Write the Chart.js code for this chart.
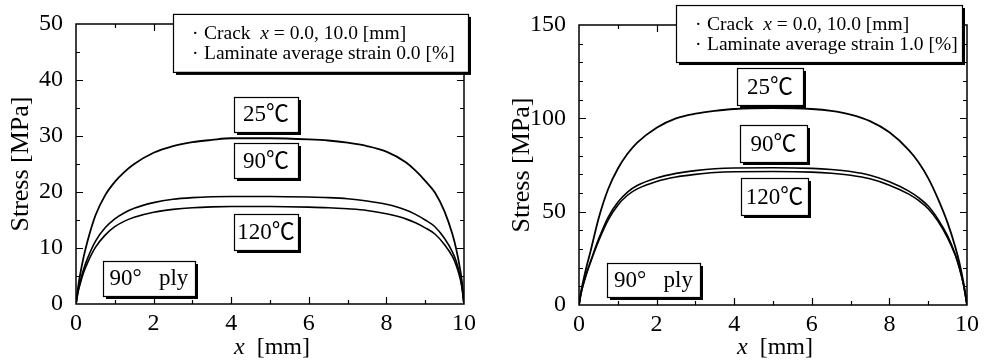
<!DOCTYPE html>
<html>
<head>
<meta charset="utf-8">
<script src="https://cdn.jsdelivr.net/npm/chart.js@4.4.0/dist/chart.umd.min.js"></script>
<style>
body { margin: 0; background: #fff; }
#wrap { position: relative; width: 984px; height: 364px; background: #fff; }
#left { position: absolute; left: 0; top: 0; }
#right { position: absolute; left: 492px; top: 0; }
</style>
</head>
<body>
<div id="wrap">
<canvas id="left" width="492" height="364"></canvas>
<canvas id="right" width="492" height="364"></canvas>
</div>
<script>
// x positions along the ply [mm]
var xPos = [0, 0.05, 0.1, 0.2, 0.3, 0.5, 0.75, 1, 1.25, 1.5, 2, 2.5, 3, 3.5, 4, 5, 6, 6.5, 7, 7.5, 8, 8.5, 8.75, 9, 9.25, 9.5, 9.7, 9.8, 9.9, 9.95, 10];

// strain 0.0 %
var left25 = [0, 2.8, 5, 8.5, 11.3, 15.8, 19.4, 21.8, 23.6, 25.0, 27.0, 28.2, 28.9, 29.3, 29.6, 29.6, 29.4, 29.2, 28.8, 28.2, 27.2, 25.3, 23.8, 22.0, 19.9, 16.5, 12.5, 9.8, 6.2, 3.8, 0];
var left90 = [0, 2.2, 3.8, 6.3, 8.2, 11.2, 13.6, 15.2, 16.3, 17.1, 18.1, 18.7, 19.0, 19.15, 19.2, 19.2, 19.1, 19.0, 18.8, 18.4, 17.8, 16.8, 16.0, 15.0, 13.8, 11.7, 9.3, 7.6, 5.0, 3.0, 0];
var left120 = [0, 2.0, 3.4, 5.7, 7.4, 10.1, 12.3, 13.8, 14.8, 15.5, 16.4, 16.9, 17.2, 17.35, 17.4, 17.4, 17.3, 17.2, 17.0, 16.7, 16.1, 15.2, 14.5, 13.6, 12.5, 10.6, 8.5, 6.9, 4.6, 2.8, 0];

// strain 1.0 %
var right25 = [0, 7, 12, 21, 29, 46, 62, 73, 81, 87, 95, 100, 102.5, 104, 105, 105.5, 105, 104, 102, 98.5, 92.5, 83, 76.5, 68, 57, 44, 31, 23, 13, 7, 0];
var right90 = [0, 6, 10.5, 17.5, 23.5, 35, 47, 55, 60.5, 64, 68, 70.5, 72, 73, 73.4, 73.5, 73.2, 72.6, 71.5, 69.5, 66, 61, 57.5, 53, 46, 37, 27, 20.5, 12, 6.5, 0];
var right120 = [0, 5.8, 10, 17, 23, 34, 45.5, 53.5, 58.8, 62.2, 66.2, 68.6, 70, 71, 71.4, 71.5, 71.2, 70.6, 69.5, 67.6, 64.2, 59.4, 56, 51.6, 45, 36, 26.5, 20, 11.8, 6.4, 0];

var tempLabels = ["25℃", "90℃", "120℃"];
var plyLabel = "90°   ply";
var strainLeft = "0.0";
var strainRight = "1.0";

var SERIF = '"Liberation Serif", "Times New Roman", serif';
var TEMPFONT = '23px "Liberation Serif", "Noto Sans CJK JP", serif';

Chart.defaults.color = "#000";
Chart.defaults.font.family = SERIF;

function points(ys) {
    var out = [];
    for (var i = 0; i < xPos.length; i++) out.push({x: xPos[i], y: ys[i]});
    return out;
}

function drawBox(ctx, x, y, w, h) {
    ctx.fillStyle = "#000";
    ctx.fillRect(x + 3, y + 3, w, h);
    ctx.fillStyle = "#fff";
    ctx.fillRect(x, y, w, h);
    ctx.strokeStyle = "#000";
    ctx.lineWidth = 1.2;
    ctx.strokeRect(x + 0.5, y + 0.5, w, h);
}

function drawRuns(ctx, runs, x, y) {
    for (var i = 0; i < runs.length; i++) {
        ctx.font = runs[i][1];
        ctx.fillText(runs[i][0], x, y);
        x += ctx.measureText(runs[i][0]).width;
    }
}

function notesPlugin(cfg) {
    return {
        id: "notes",
        afterDraw: function(chart) {
            var ctx = chart.ctx, a = chart.chartArea;
            var sx = chart.scales.x, sy = chart.scales.y;
            ctx.save();
            ctx.strokeStyle = "#000";
            ctx.lineWidth = 1.5;
            ctx.strokeRect(a.left, a.top, a.right - a.left, a.bottom - a.top);

            // inward ticks on all four sides
            ctx.lineWidth = 1.2;
            ctx.beginPath();
            for (var v = 1; v < 10; v++) {
                var px = Math.round(sx.getPixelForValue(v)) + 0.5;
                var len = v % 2 == 0 ? 7 : 4;
                ctx.moveTo(px, a.bottom); ctx.lineTo(px, a.bottom - len);
                ctx.moveTo(px, a.top); ctx.lineTo(px, a.top + len);
            }
            for (var w = cfg.yMinor; w < cfg.yMax; w += cfg.yMinor) {
                var py = Math.round(sy.getPixelForValue(w)) + 0.5;
                var l2 = w % cfg.yStep == 0 ? 7 : 4;
                ctx.moveTo(a.left, py); ctx.lineTo(a.left + l2, py);
                ctx.moveTo(a.right, py); ctx.lineTo(a.right - l2, py);
            }
            ctx.stroke();

            // x axis title
            ctx.fillStyle = "#000";
            ctx.textBaseline = "alphabetic";
            ctx.textAlign = "left";
            var cx = (a.left + a.right) / 2;
            drawRuns(ctx, [["x", "italic 24px " + SERIF], ["  [mm]", "24px " + SERIF]], cx - 36, 354);

            // legend box
            var lb = cfg.legend;
            var lx = sx.getPixelForValue(lb.x), ly = sy.getPixelForValue(lb.y);
            drawBox(ctx, lx, ly, lb.w, lb.h);
            ctx.fillStyle = "#000";
            var f = "19.5px " + SERIF;
            ctx.font = f;
            ctx.fillText("·", lx + 19, ly + 25);
            ctx.fillText("·", lx + 19, ly + 45);
            drawRuns(ctx, [["Crack  ", f], ["x", "italic " + f], [" = 0.0, 10.0 [mm]", f]], lx + 31, ly + 25);
            drawRuns(ctx, [["Laminate average strain " + cfg.strain + " [%]", f]], lx + 31, ly + 45);

            // temperature and ply labels
            ctx.textAlign = "center";
            ctx.textBaseline = "middle";
            for (var i = 0; i < cfg.tags.length; i++) {
                var t = cfg.tags[i];
                var tx = sx.getPixelForValue(t.x), ty = sy.getPixelForValue(t.y);
                drawBox(ctx, Math.round(tx - t.w / 2), Math.round(ty - t.h / 2), t.w, t.h);
                ctx.fillStyle = "#000";
                ctx.font = TEMPFONT;
                ctx.fillText(t.text, tx, ty + 1);
            }
            ctx.restore();
        }
    };
}

function makeChart(id, series, cfg) {
    var ds = [];
    for (var i = 0; i < series.length; i++) {
        ds.push({
            data: points(series[i]),
            borderColor: "#000",
            borderWidth: i == 0 ? 1.8 : 1.6,
            pointRadius: 0,
            fill: false,
            cubicInterpolationMode: "monotone"
        });
    }
    return new Chart(document.getElementById(id), {
        type: "line",
        data: {datasets: ds},
        options: {
            responsive: false,
            animation: false,
            layout: {padding: cfg.padding},
            plugins: {legend: {display: false}, tooltip: {enabled: false}},
            scales: {
                x: {
                    type: "linear", min: 0, max: 10,
                    grid: {display: false}, border: {display: false},
                    ticks: {stepSize: 2, padding: -3, font: {size: 24}, maxRotation: 0},
                    afterFit: function(s) { s.height = cfg.xh; }
                },
                y: {
                    min: 0, max: cfg.yMax,
                    grid: {display: false}, border: {display: false},
                    ticks: {stepSize: cfg.yStep, padding: 5, font: {size: 24}},
                    title: {display: true, text: "Stress [MPa]", font: {size: 26}, padding: {top: cfg.titlePad, bottom: 0}},
                    afterFit: function(s) { s.width = cfg.yw; }
                }
            }
        },
        plugins: [notesPlugin(cfg)]
    });
}

makeChart("left", [left25, left90, left120], {
    yMax: 50, yStep: 10, yMinor: 5,
    padding: {left: 0, top: 24, right: 28, bottom: 0},
    yw: 76, xh: 60, titlePad: 6,
    strain: strainLeft,
    legend: {x: 2.5, y: 51.8, w: 295, h: 58},
    tags: [
        {text: tempLabels[0], x: 4.9, y: 33.9, w: 64, h: 35},
        {text: tempLabels[1], x: 4.9, y: 25.6, w: 64, h: 35},
        {text: tempLabels[2], x: 4.9, y: 12.9, w: 64, h: 36},
        {text: plyLabel, x: 1.88, y: 4.6, w: 92, h: 35}
    ]
});

makeChart("right", [right25, right90, right120], {
    yMax: 150, yStep: 50, yMinor: 10,
    padding: {left: 0, top: 25, right: 17, bottom: 0},
    yw: 87, xh: 59, titlePad: 15,
    strain: strainRight,
    legend: {x: 2.5, y: 160.7, w: 286, h: 57},
    tags: [
        {text: tempLabels[0], x: 4.92, y: 117, w: 66, h: 37},
        {text: tempLabels[1], x: 5.01, y: 86.5, w: 67, h: 37},
        {text: tempLabels[2], x: 5.04, y: 58.1, w: 67, h: 37},
        {text: plyLabel, x: 1.92, y: 13.4, w: 93, h: 34}
    ]
});
</script>
</body>
</html>
